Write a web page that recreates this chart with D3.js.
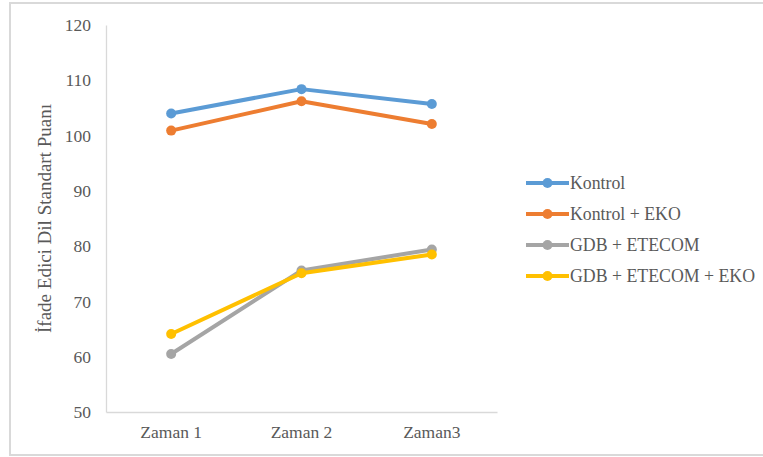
<!DOCTYPE html>
<html>
<head>
<meta charset="utf-8">
<script src="https://cdn.jsdelivr.net/npm/d3@7"></script>
<style>
  body { margin: 0; background: #fff; }
  svg text { font-family: "Liberation Serif", "Times New Roman", serif; }
</style>
</head>
<body>
<div id="chart"></div>
<script>
const categories = ["Zaman 1", "Zaman 2", "Zaman3"];
const seriesNames = ["Kontrol", "Kontrol + EKO", "GDB + ETECOM", "GDB + ETECOM + EKO"];
const kontrol = [104.0, 108.4, 105.7];
const kontrolEko = [100.9, 106.2, 102.1];
const gdbEtecom = [60.5, 75.6, 79.4];
const gdbEtecomEko = [64.1, 75.1, 78.5];
const yTicks = [50, 60, 70, 80, 90, 100, 110, 120];
const colors = ["#5b9bd5", "#ed7d31", "#a5a5a5", "#ffc000"];

const W = 763, H = 457;
const plot = { left: 106, right: 497, top: 25, bottom: 412 };
const serif = "'Liberation Serif', 'Times New Roman', serif";

const series = seriesNames.map((name, i) => ({
    name,
    values: [kontrol, kontrolEko, gdbEtecom, gdbEtecomEko][i],
    color: colors[i]
}));

const svg = d3.select("#chart").append("svg")
    .attr("width", W)
    .attr("height", H);

// chart frame
svg.append("rect")
    .attr("x", 10).attr("y", 3)
    .attr("width", 760).attr("height", 452)
    .attr("fill", "none")
    .attr("stroke", "#d9d9d9")
    .attr("stroke-width", 2);

const x = d3.scaleBand()
    .domain(categories)
    .range([plot.left, plot.right]);

const y = d3.scaleLinear()
    .domain([50, 120])
    .range([plot.bottom, plot.top]);

// y axis
const yAxis = svg.append("g")
    .attr("transform", `translate(${plot.left},0)`)
    .call(d3.axisLeft(y).tickValues(yTicks).tickSize(0).tickPadding(15))
    .attr("font-family", serif)
    .attr("font-size", 17.5);
yAxis.select(".domain").attr("stroke", "#d9d9d9").attr("stroke-width", 1.3);
yAxis.selectAll("text").attr("fill", "#595959");

// x axis
const xAxis = svg.append("g")
    .attr("transform", `translate(0,${plot.bottom})`)
    .call(d3.axisBottom(x).tickSize(0).tickPadding(14))
    .attr("font-family", serif)
    .attr("font-size", 17.5);
xAxis.select(".domain").attr("stroke", "#d9d9d9").attr("stroke-width", 1.3);
xAxis.selectAll("text").attr("fill", "#595959");

// y title
svg.append("text")
    .attr("transform", `translate(51,${(plot.top + plot.bottom) / 2}) rotate(-90)`)
    .attr("text-anchor", "middle")
    .attr("fill", "#595959")
    .attr("font-size", 19)
    .text("İfade Edici Dil Standart Puanı");

const line = d3.line()
    .x((d, i) => x(categories[i]) + x.bandwidth() / 2)
    .y(d => y(d));

const g = svg.selectAll(".series")
    .data(series)
    .join("g")
    .attr("class", "series");

g.append("path")
    .attr("d", d => line(d.values))
    .attr("fill", "none")
    .attr("stroke", d => d.color)
    .attr("stroke-width", 4)
    .attr("stroke-linejoin", "round");

g.selectAll("circle")
    .data(d => d.values.map((v, i) => ({ v, i, color: d.color })))
    .join("circle")
    .attr("cx", d => x(categories[d.i]) + x.bandwidth() / 2)
    .attr("cy", d => y(d.v))
    .attr("r", 5)
    .attr("fill", d => d.color);

// legend
const legend = svg.append("g")
    .attr("transform", "translate(526,183)");

const items = legend.selectAll("g")
    .data(series)
    .join("g")
    .attr("transform", (d, i) => `translate(0,${i * 31})`);

items.append("line")
    .attr("x1", 0).attr("x2", 43)
    .attr("stroke", d => d.color)
    .attr("stroke-width", 4);

items.append("circle")
    .attr("cx", 21.5)
    .attr("r", 5)
    .attr("fill", d => d.color);

items.append("text")
    .attr("x", 44)
    .attr("y", 6)
    .attr("fill", "#595959")
    .attr("font-size", 17.8)
    .text(d => d.name);
</script>
</body>
</html>
